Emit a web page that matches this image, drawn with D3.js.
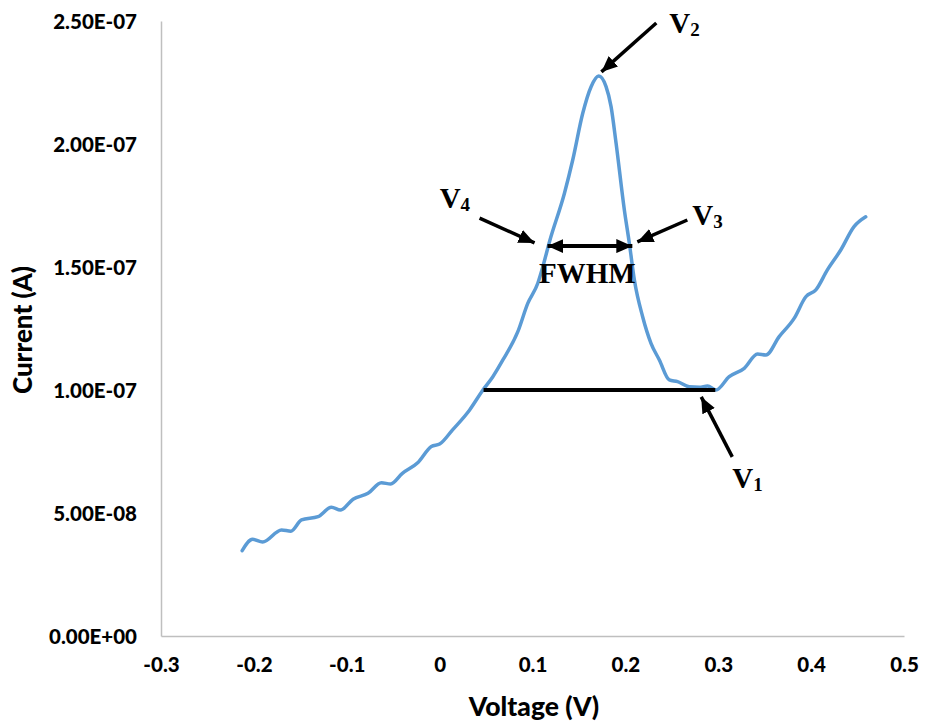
<!DOCTYPE html>
<html>
<head>
<meta charset="utf-8">
<script src="https://cdn.jsdelivr.net/npm/d3@7"></script>
<style>
  html, body { margin: 0; padding: 0; background: #fff; }
  svg { display: block; }
</style>
</head>
<body>
<svg id="chart" width="935" height="723"></svg>
<script>
// ---- data ----
const voltage = [-0.2126, -0.2014, -0.1906, -0.1702, -0.1602, -0.1487, -0.1309, -0.1165, -0.1068, -0.0932,
  -0.0771, -0.0627, -0.0527, -0.0401, -0.0233, -0.0089, 0.0000, 0.0137, 0.0323, 0.0466,
  0.0573, 0.0681, 0.0842, 0.0949, 0.1057, 0.1111, 0.1183, 0.1344, 0.1433, 0.1541,
  0.1631, 0.1713, 0.1792, 0.1846, 0.1900, 0.1989, 0.2043, 0.2097, 0.2186, 0.2276,
  0.2366, 0.2473, 0.2562, 0.2688, 0.2796, 0.2885, 0.2975, 0.3118, 0.3280, 0.3423,
  0.3513, 0.3656, 0.3817, 0.3943, 0.4051, 0.4175, 0.4319, 0.4462, 0.4588];
const current = [3.47e-8, 3.93e-8, 3.82e-8, 4.31e-8, 4.26e-8, 4.72e-8, 4.85e-8, 5.23e-8, 5.12e-8, 5.56e-8,
  5.80e-8, 6.23e-8, 6.18e-8, 6.61e-8, 7.05e-8, 7.70e-8, 7.80e-8, 8.37e-8, 9.19e-8, 1.000e-7,
  1.054e-7, 1.122e-7, 1.237e-7, 1.352e-7, 1.434e-7, 1.501e-7, 1.603e-7, 1.800e-7, 1.935e-7, 2.125e-7,
  2.233e-7, 2.276e-7, 2.233e-7, 2.152e-7, 2.003e-7, 1.732e-7, 1.596e-7, 1.447e-7, 1.298e-7, 1.190e-7,
  1.122e-7, 1.041e-7, 1.034e-7, 1.013e-7, 1.011e-7, 1.016e-7, 1.000e-7, 1.054e-7, 1.088e-7, 1.146e-7,
  1.142e-7, 1.217e-7, 1.291e-7, 1.379e-7, 1.407e-7, 1.488e-7, 1.569e-7, 1.664e-7, 1.704e-7];

const xTicks = [-0.3, -0.2, -0.1, 0, 0.1, 0.2, 0.3, 0.4, 0.5];
const xTickLabels = ["-0.3", "-0.2", "-0.1", "0", "0.1", "0.2", "0.3", "0.4", "0.5"];
const yTicks = [0, 5e-8, 1e-7, 1.5e-7, 2e-7, 2.5e-7];
const yTickLabels = ["0.00E+00", "5.00E-08", "1.00E-07", "1.50E-07", "2.00E-07", "2.50E-07"];

// annotation geometry in data units [V, A]
const baseline = { x1: 0.0473, x2: 0.2968, y: 1.0e-7 };
const fwhm = { x1: 0.1161, x2: 0.2075, y: 1.585e-7 };
const arrows = [
  { from: [0.2333, 2.492e-7], to: [0.1742, 2.293e-7] },   // V2
  { from: [0.0430, 1.699e-7], to: [0.1022, 1.598e-7] },   // V4
  { from: [0.2667, 1.691e-7], to: [0.2129, 1.602e-7] },   // V3
  { from: [0.3151, 7.28e-8],  to: [0.2817, 9.72e-8] }     // V1
];
const vLabels = [
  { sub: "2", at: [0.2473, 2.451e-7] },
  { sub: "4", at: [0.0000, 1.740e-7] },
  { sub: "3", at: [0.2720, 1.671e-7] },
  { sub: "1", at: [0.3151, 6.02e-8] }
];
const fwhmText = { text: "FWHM", at: [0.1591, 1.435e-7] };

// ---- layout ----
const svg = d3.select("#chart");
const x = d3.scaleLinear().domain([-0.3, 0.5]).range([161, 904]);
const y = d3.scaleLinear().domain([0, 2.5e-7]).range([636, 21]);

const axisColor = "#bfbfbf";
const sans = "Lato, 'Open Sans', sans-serif";
const serif = "'Liberation Serif', 'Times New Roman', serif";

// axes
const xAxis = d3.axisBottom(x).tickValues(xTicks).tickSize(0).tickPadding(21)
  .tickFormat((d, i) => xTickLabels[i]);
const yAxis = d3.axisLeft(y).tickValues(yTicks).tickSize(0).tickPadding(24)
  .tickFormat((d, i) => yTickLabels[i]);

const gx = svg.append("g").attr("transform", `translate(0,${y(0)})`).call(xAxis);
const gy = svg.append("g").attr("transform", `translate(${x(-0.3)},0)`).call(yAxis);
[gx, gy].forEach(g => {
  g.select(".domain").attr("stroke", axisColor).attr("stroke-width", 1.5);
  g.selectAll("text").attr("fill", "#000").style("font-family", sans)
    .style("font-weight", "900").style("font-size", "20.5px");
});
gy.selectAll("text").attr("dy", "0.35em");

// axis titles
svg.append("text").attr("x", 534).attr("y", 716).attr("text-anchor", "middle")
  .style("font-family", sans).style("font-weight", "900").style("font-size", "26.5px")
  .text("Voltage (V)");
svg.append("text").attr("transform", "translate(32,330) rotate(-90)").attr("text-anchor", "middle")
  .style("font-family", sans).style("font-weight", "900").style("font-size", "26px")
  .text("Current (A)");

// data line
const pts = voltage.map((v, i) => [v, current[i]]);
const line = d3.line().x(d => x(d[0])).y(d => y(d[1])).curve(d3.curveMonotoneX);
svg.append("path").datum(pts).attr("d", line).attr("fill", "none")
  .attr("stroke", "#5b9bd5").attr("stroke-width", 3.5)
  .attr("stroke-linejoin", "round").attr("stroke-linecap", "round");

// baseline
svg.append("line").attr("x1", x(baseline.x1)).attr("x2", x(baseline.x2))
  .attr("y1", y(baseline.y)).attr("y2", y(baseline.y))
  .attr("stroke", "#000").attr("stroke-width", 4);

// arrowhead marker
const defs = svg.append("defs");
defs.append("marker").attr("id", "ah").attr("viewBox", "0 0 16 14")
  .attr("refX", 16).attr("refY", 7).attr("markerWidth", 16).attr("markerHeight", 14)
  .attr("markerUnits", "userSpaceOnUse").attr("orient", "auto-start-reverse")
  .append("path").attr("d", "M0,0 L16,7 L0,14 Z").attr("fill", "#000");

// FWHM double arrow
svg.append("line").attr("x1", x(fwhm.x1)).attr("x2", x(fwhm.x2))
  .attr("y1", y(fwhm.y)).attr("y2", y(fwhm.y))
  .attr("stroke", "#000").attr("stroke-width", 4)
  .attr("marker-start", "url(#ah)").attr("marker-end", "url(#ah)");

// pointer arrows
arrows.forEach(a => {
  svg.append("line").attr("x1", x(a.from[0])).attr("y1", y(a.from[1]))
    .attr("x2", x(a.to[0])).attr("y2", y(a.to[1]))
    .attr("stroke", "#000").attr("stroke-width", 3.5).attr("marker-end", "url(#ah)");
});

// V labels
vLabels.forEach(l => {
  const t = svg.append("text").attr("x", x(l.at[0])).attr("y", y(l.at[1]))
    .style("font-family", serif).style("font-weight", "bold").style("font-size", "29px");
  t.append("tspan").text("V");
  t.append("tspan").attr("dy", 3).style("font-size", "19px").text(l.sub);
});

svg.append("text").attr("x", x(fwhmText.at[0])).attr("y", y(fwhmText.at[1]))
  .attr("text-anchor", "middle")
  .style("font-family", serif).style("font-weight", "bold").style("font-size", "29px")
  .text(fwhmText.text);
</script>
</body>
</html>
